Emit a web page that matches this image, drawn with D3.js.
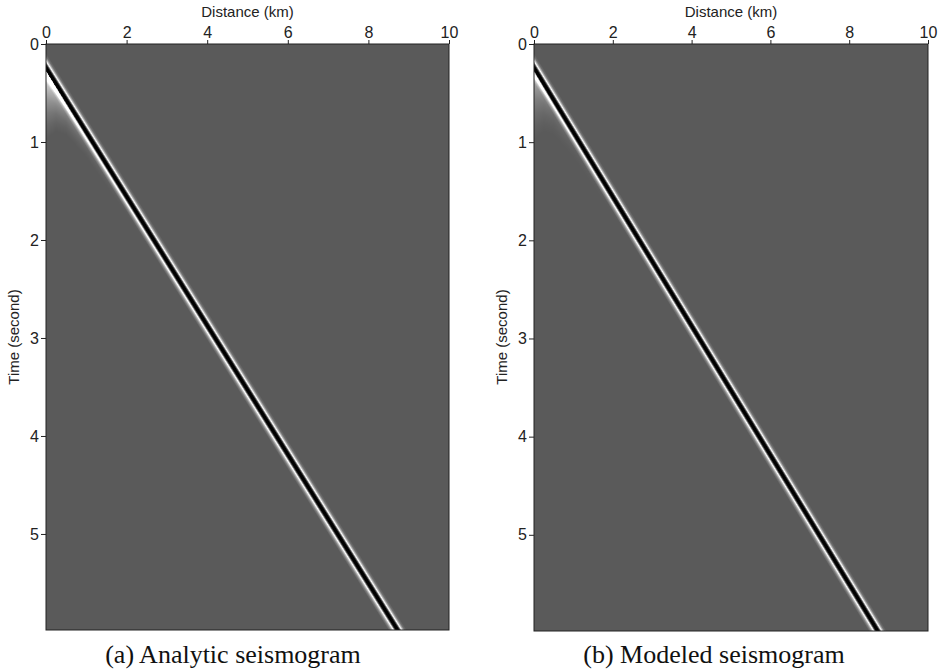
<html>
<script src="https://d3js.org/d3.v7.min.js"></script>
<style>
body { margin: 0; background: #fff; }
text { font-family: "Liberation Sans", Helvetica, Arial, sans-serif; }
</style>
<body>
<svg width="946" height="672"></svg>
<script>
// axis ticks
var distTicks = [0, 2, 4, 6, 8, 10];
var timeTicks = [0, 1, 2, 3, 4, 5];
var captions = ["(a) Analytic seismogram", "(b) Modeled seismogram"];

// direct arrival: intercept (s) and apparent velocity (km/s)
var eventT0 = 0.24;
var eventVel = 1.52;

// wavelet across the event (lag in s vs amplitude, + = white, - = black)
var waveLag = [-0.15, -0.115, -0.088, -0.068, -0.052, -0.039, -0.022, 0, 0.022, 0.039, 0.052, 0.068, 0.088, 0.115, 0.15];
var waveAmp = [0, 0.12, 0.5, 0.9, 0.4, -0.3, -1.0, -1.25, -1.0, -0.3, 0.4, 0.9, 0.55, 0.2, 0];

// tail behind the wavefront, strength and length against distance
var tailDist = [0, 0.25, 0.5, 1, 2, 4, 9];
var tailAmpA = [1.0, 0.75, 0.5, 0.3, 0.16, 0.08, 0.04];
var tailAmpB = [0.6, 0.4, 0.25, 0.15, 0.08, 0.05, 0.03];
var tailLen = [0.7, 0.45, 0.32, 0.22, 0.15, 0.1, 0.08];
var tailU = [0, 0.2, 0.4, 0.6, 0.8, 1];
var tailShape = [1, 0.6, 0.35, 0.18, 0.07, 0];

var panels = [
  {x0: 46, x1: 449, y0: 44, y1: 630, tail: tailAmpA, cap: 0, capX: 233, titleX: 14},
  {x0: 534, x1: 928, y0: 44, y1: 631, tail: tailAmpB, cap: 1, capX: 714, titleX: 502}
];

var svg = d3.select("svg");

var wave = d3.scaleLinear().domain(waveLag).range(waveAmp).clamp(true);
var tLen = d3.scaleLinear().domain(tailDist).range(tailLen).clamp(true);
var tShape = d3.scaleLinear().domain(tailU).range(tailShape).clamp(true);
var grey = d3.scaleLinear().domain([-1, 0, 0.9]).range(["#000", "#5a5a5a", "#fff"]).clamp(true);

panels.forEach(function(p) {
  var x = d3.scaleLinear().domain([0, 10]).range([p.x0, p.x1]);
  var y = d3.scaleLinear().domain([0, 5.98]).range([p.y0, p.y1]);
  var tAmp = d3.scaleLinear().domain(tailDist).range(p.tail).clamp(true);

  // seismogram image
  var w = p.x1 - p.x0, h = p.y1 - p.y0;
  var cv = document.createElement("canvas");
  cv.width = w; cv.height = h;
  var ctx = cv.getContext("2d");
  var img = ctx.createImageData(w, h);
  for (var j = 0; j < h; j++) {
    var t = y.invert(p.y0 + j + 0.5);
    for (var i = 0; i < w; i++) {
      var d = x.invert(p.x0 + i + 0.5);
      var lag = t - (eventT0 + d / eventVel);
      var v = wave(lag);
      if (lag > 0.035) v += tAmp(d) * tShape((lag - 0.035) / tLen(d));
      var c = d3.rgb(grey(v));
      var k = (j * w + i) * 4;
      img.data[k] = c.r; img.data[k + 1] = c.g; img.data[k + 2] = c.b; img.data[k + 3] = 255;
    }
  }
  ctx.putImageData(img, 0, 0);
  svg.append("image")
    .attr("x", p.x0).attr("y", p.y0)
    .attr("width", w).attr("height", h)
    .attr("href", cv.toDataURL());

  svg.append("rect")
    .attr("x", p.x0).attr("y", p.y0)
    .attr("width", w).attr("height", h)
    .attr("fill", "none").attr("stroke", "#222");

  var gx = svg.append("g")
    .attr("transform", "translate(0," + p.y0 + ")")
    .call(d3.axisTop(x).tickValues(distTicks).tickSize(4).tickPadding(2));
  var gy = svg.append("g")
    .attr("transform", "translate(" + p.x0 + ",0)")
    .call(d3.axisLeft(y).tickValues(timeTicks).tickFormat(d3.format("d")).tickSize(5).tickPadding(2));
  [gx, gy].forEach(function(g) {
    g.select(".domain").remove();
    g.selectAll("line").attr("stroke", "#222");
    g.selectAll("text").attr("font-size", 16).attr("fill", "#222").attr("font-family", null);
  });

  svg.append("text")
    .attr("x", (p.x0 + p.x1) / 2).attr("y", 17)
    .attr("text-anchor", "middle").attr("font-size", 15).attr("fill", "#222")
    .text("Distance (km)");
  svg.append("text")
    .attr("transform", "translate(" + p.titleX + "," + 337 + ") rotate(-90)")
    .attr("text-anchor", "middle").attr("dy", "0.35em").attr("font-size", 15).attr("fill", "#222")
    .text("Time (second)");

  svg.append("text")
    .attr("x", p.capX).attr("y", 663)
    .attr("text-anchor", "middle")
    .style("font-family", "'Liberation Serif', 'Times New Roman', serif")
    .attr("font-size", 26).attr("fill", "#111")
    .text(captions[p.cap]);
});
</script>
</body>
</html>
